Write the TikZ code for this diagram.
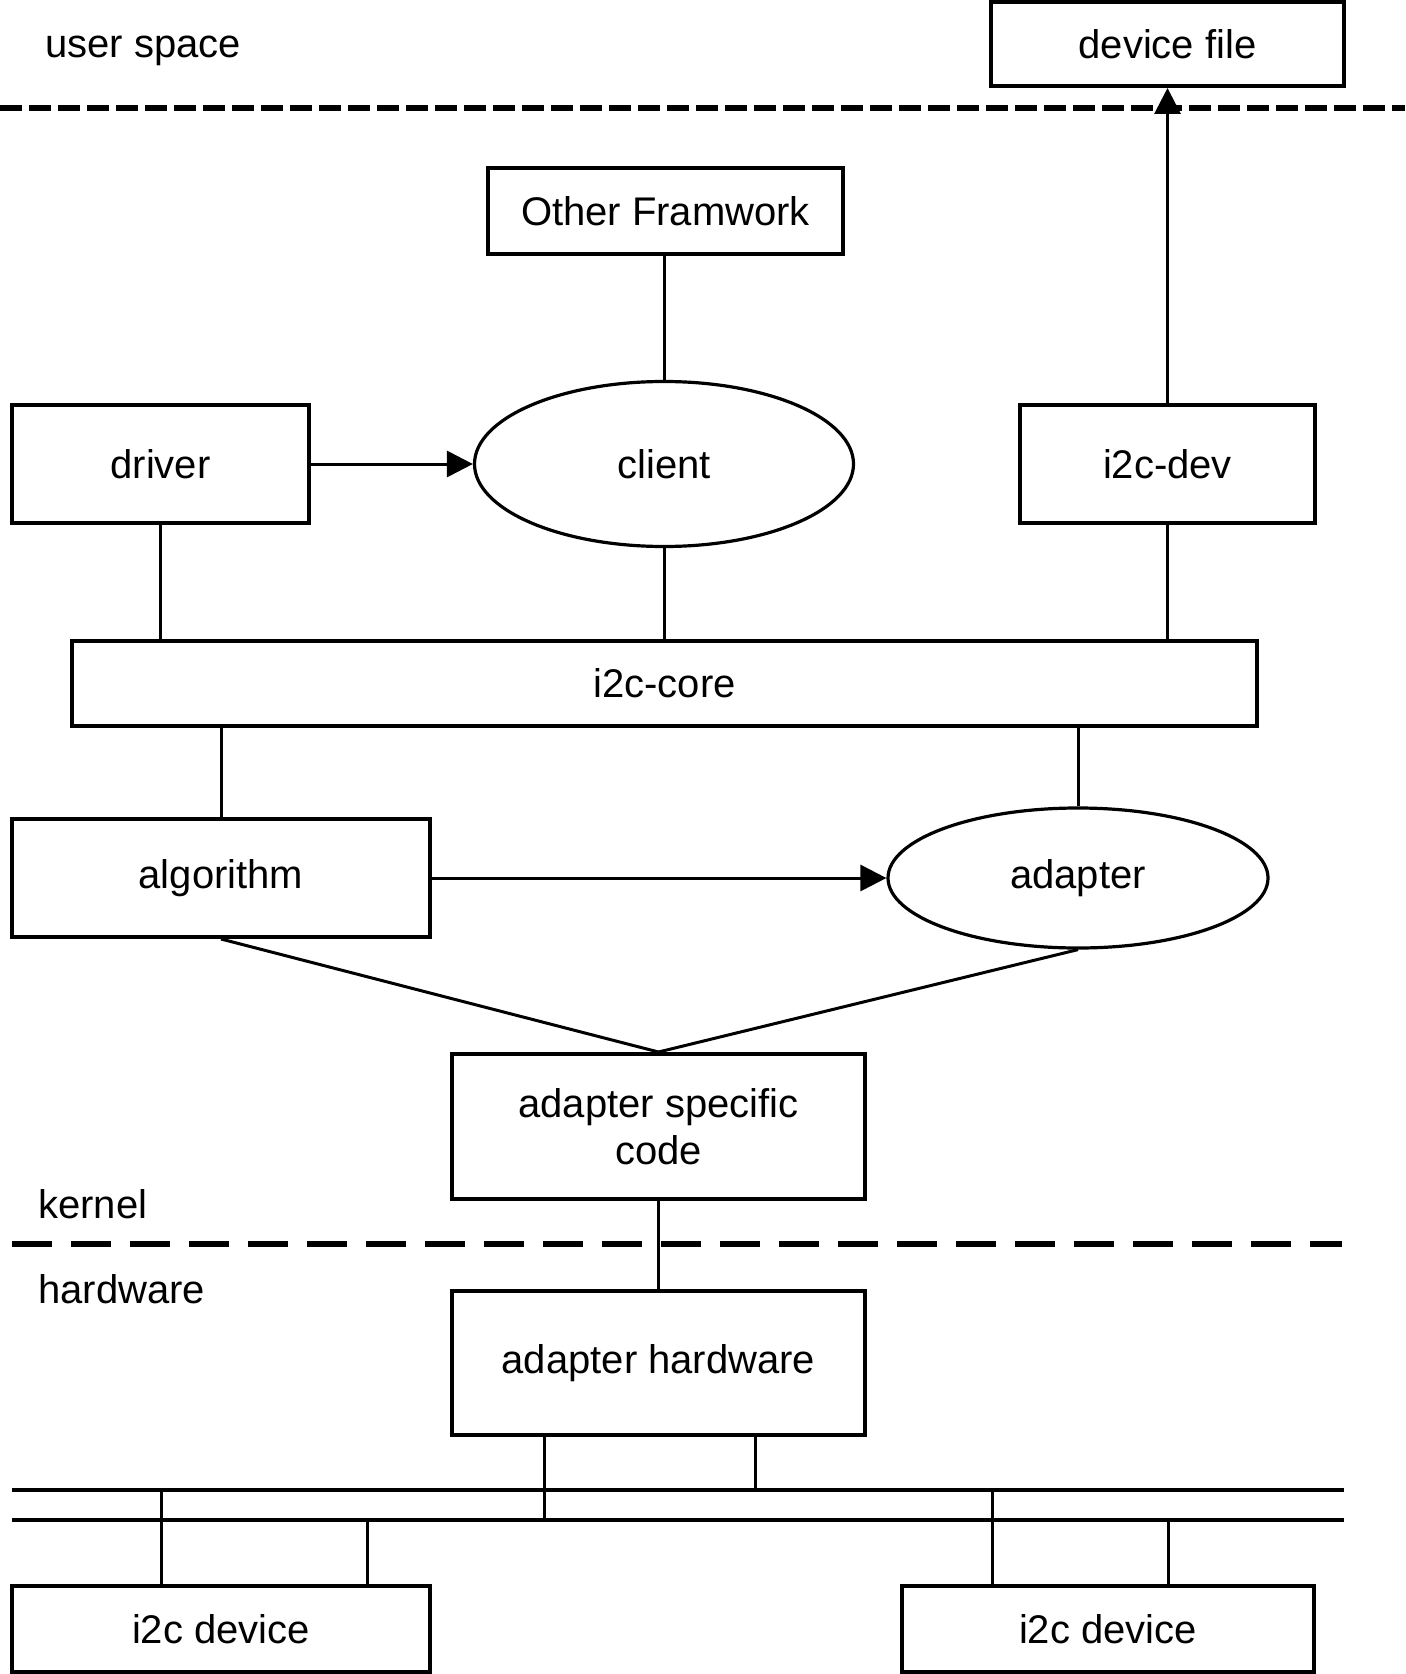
\documentclass[tikz,border=0pt]{standalone}
\usepackage{fontspec}
\setmainfont{Liberation Sans}
\usetikzlibrary{
    arrows.meta,
    shapes.geometric,
    positioning
}
\tikzset{
    box/.style={draw, line width=2pt, inner sep=0pt, font=\fontsize{20}{23.5}\selectfont},
    blob/.style={draw, ellipse, line width=1.6pt, inner sep=0pt, font=\fontsize{20}{23.5}\selectfont},
    wire/.style={line width=1.5pt},
    bus/.style={line width=2pt},
    tip/.style={line width=1.5pt, -{Triangle[length=13pt,width=13pt]}},
    tag/.style={font=\fontsize{20}{23.5}\selectfont, inner sep=0pt}
}

\begin{document}
\begin{tikzpicture}[x=0.5pt, y=-0.5pt]
    \useasboundingbox (0, 0) rectangle (1405, 1674);

    % user space / kernel / hardware
    \node[tag, anchor=base west] (usr) at (45, 58) {user space};
    \node[tag, anchor=west] (krn) at (38, 1204) {kernel};
    \node[tag, anchor=west] (hw) at (38, 1289) {hardware};
    \draw[line width=2.75pt, dash pattern=on 11pt off 3.5pt] (0, 108) -- (1405, 108);
    \draw[line width=3pt, dash pattern=on 20pt off 9.5pt] (12, 1244) -- (1342, 1244);

    \node[box, minimum width=176.5pt, minimum height=42pt] (devfile) at (1167.5, 44) {device file};
    \node[box, minimum width=177.5pt, minimum height=43pt] (other) at (665.5, 211) {Other Framwork};
    \node[box, minimum width=148.5pt, minimum height=59pt] (driver) at (160.5, 464) {driver};
    \node[blob, minimum width=189.5pt, minimum height=82.5pt] (client) at (664, 464) {client};
    \node[box, minimum width=147.5pt, minimum height=59pt] (i2cdev) at (1167.5, 464) {i2c-dev};
    \node[box, minimum width=592.5pt, minimum height=42.5pt] (core) at (664.5, 683.5) {i2c-core};
    \node[box, minimum width=209pt, minimum height=59pt] (algo) at (221, 878) {algorithm};
    \node[blob, minimum width=190pt, minimum height=70pt] (adapter) at (1078, 878) {adapter};
    \node[box, minimum width=206.5pt, minimum height=72.5pt, align=center] (asc) at (658.5, 1126.5) {adapter specific\\code};
    \node[box, minimum width=206.5pt, minimum height=72pt] (adhw) at (658.5, 1363) {adapter hardware};
    \node[box, minimum width=209pt, minimum height=43pt] (dev1) at (221, 1629) {i2c device};
    \node[box, minimum width=206pt, minimum height=43pt] (dev2) at (1108, 1629) {i2c device};

    % kernel connections
    \draw[wire] (client.north |- other.south) -- (client.north);
    \draw[tip] (driver.east) -- (client.west);
    \draw[tip] (i2cdev.north) -- (devfile.south);
    \draw[wire] (driver.south) -- (driver.south |- core.north);
    \draw[wire] (client.south) -- (client.south |- core.north);
    \draw[wire] (i2cdev.south) -- (i2cdev.south |- core.north);
    \draw[wire] (algo.north) -- (algo.north |- core.south);
    \draw[wire] (adapter.north) -- (adapter.north |- core.south);
    \draw[tip] (algo.east) -- (adapter.west);
    \draw[wire] (algo.south) -- (asc.north);
    \draw[wire] (adapter.south) -- (asc.north);
    \draw[wire] (asc.south) -- (adhw.north);

    % i2c bus
    \coordinate (busA) at (12, 1490);
    \coordinate (busB) at (12, 1520);
    \draw[bus] (busA) -- (1344, 1490);
    \draw[bus] (busB) -- (1344, 1520);
    \coordinate (hwA) at ([xshift=-57.25pt]adhw.south);
    \coordinate (hwB) at ([xshift=48.25pt]adhw.south);
    \draw[wire] (hwA) -- (hwA |- busB);
    \draw[wire] (hwB) -- (hwB |- busA);
    \coordinate (d1A) at ([xshift=-30pt]dev1.north);
    \coordinate (d1B) at ([xshift=73pt]dev1.north);
    \draw[wire] (d1A) -- (d1A |- busA);
    \draw[wire] (d1B) -- (d1B |- busB);
    \coordinate (d2A) at ([xshift=-58pt]dev2.north);
    \coordinate (d2B) at ([xshift=30pt]dev2.north);
    \draw[wire] (d2A) -- (d2A |- busA);
    \draw[wire] (d2B) -- (d2B |- busB);
\end{tikzpicture}
\end{document}
